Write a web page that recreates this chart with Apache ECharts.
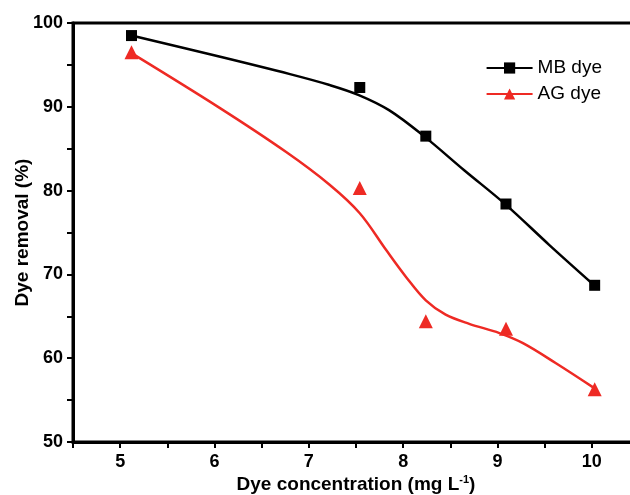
<!DOCTYPE html>
<html>
<head>
<meta charset="utf-8">
<script src="https://cdn.jsdelivr.net/npm/echarts@6/dist/echarts.min.js"></script>
<style>
  html, body { margin: 0; padding: 0; background: #fff; }
  #chart { width: 630px; height: 495px; }
</style>
</head>
<body>
<div id="chart"></div>
<script>
// measured points
var concentration = [5.12, 7.54, 8.24, 9.09, 10.03]
var mbRemoval = [98.5, 92.3, 86.5, 78.4, 68.7]
var agRemoval = [96.5, 80.3, 64.4, 63.5, 56.3]

// fitted curves
var mbCurveX = [5.12, 6.05, 6.8, 7.22, 7.53, 7.85, 8.22, 8.65, 9.09, 9.55, 10.03]
var mbCurveY = [98.5, 96.0, 93.9, 92.6, 91.4, 89.6, 86.5, 82.4, 78.3, 73.5, 68.65]
var agCurveX = [5.12, 6.05, 6.76, 7.22, 7.54, 7.82, 8.03, 8.24, 8.45, 8.7, 9.02, 9.27, 9.62, 10.03]
var agCurveY = [96.4, 89.9, 84.6, 80.7, 77.3, 72.9, 69.7, 66.9, 65.2, 64.1, 63.0, 61.8, 59.4, 56.4]

var xTicks = [5, 6, 7, 8, 9, 10]
var yTicks = [50, 60, 70, 80, 90, 100]

function pairs(xs, ys) {
  return xs.map(function (x, i) { return [x, ys[i]] })
}

var chart = echarts.init(document.getElementById('chart'))

var font = 'Liberation Sans, Arial, sans-serif'

chart.setOption({
  animation: false,
  grid: {
    left: 73,
    top: 23,
    right: -9,
    bottom: 53,
    outerBoundsMode: 'none',
    containLabel: false,
    show: true,
    borderColor: '#000',
    borderWidth: 3
  },
  legend: {
    right: 23,
    top: 53,
    orient: 'vertical',
    itemWidth: 46,
    itemHeight: 14,
    itemGap: 6,
    textStyle: { fontFamily: font, fontSize: 19, lineHeight: 20, color: '#000' },
    data: ['MB dye', 'AG dye']
  },
  xAxis: {
    type: 'value',
    min: 4.5,
    max: 10.5,
    interval: 0.5,
    name: 'Dye concentration (mg L{sup|-1})',
    nameLocation: 'middle',
    nameGap: 32,
    nameMoveOverlap: false,
    nameTextStyle: {
      fontFamily: font, fontSize: 19, fontWeight: 'bold', color: '#000',
      rich: { sup: { fontSize: 11, fontWeight: 'bold', verticalAlign: 'top', padding: [0, 0, 10, 0] } }
    },
    splitLine: { show: false },
    axisLine: { onZero: false, lineStyle: { color: '#000', width: 3 } },
    axisTick: { length: 6, lineStyle: { color: '#000', width: 2 } },
    axisLabel: {
      fontFamily: font, fontSize: 18, fontWeight: 'bold', color: '#000', margin: 11,
      formatter: function (v) { return xTicks.indexOf(v) >= 0 ? String(v) : '' }
    }
  },
  yAxis: {
    type: 'value',
    min: 50,
    max: 100,
    interval: 5,
    name: 'Dye removal (%)',
    nameLocation: 'middle',
    nameGap: 41,
    nameMoveOverlap: false,
    nameTextStyle: { fontFamily: font, fontSize: 19, fontWeight: 'bold', color: '#000' },
    splitLine: { show: false },
    axisLine: { onZero: false, lineStyle: { color: '#000', width: 3 } },
    axisTick: { length: 6, lineStyle: { color: '#000', width: 2 } },
    axisLabel: {
      fontFamily: font, fontSize: 18, fontWeight: 'bold', color: '#000', margin: 10,
      formatter: function (v) { return yTicks.indexOf(v) >= 0 ? String(v) : '' }
    }
  },
  series: [
    {
      name: 'MB dye',
      type: 'line',
      smooth: 0.35,
      showSymbol: false,
      symbol: 'rect',
      symbolSize: 9,
      color: '#000',
      lineStyle: { color: '#000', width: 2.5 },
      data: pairs(mbCurveX, mbCurveY)
    },
    {
      name: 'AG dye',
      type: 'line',
      smooth: 0.35,
      showSymbol: false,
      symbol: 'triangle',
      symbolSize: 11,
      color: '#ee2a24',
      lineStyle: { color: '#ee2a24', width: 2.5 },
      data: pairs(agCurveX, agCurveY)
    },
    {
      name: 'MB points',
      type: 'scatter',
      symbol: 'rect',
      symbolSize: 11,
      itemStyle: { color: '#000', opacity: 1 },
      data: pairs(concentration, mbRemoval)
    },
    {
      name: 'AG points',
      type: 'scatter',
      symbol: 'triangle',
      symbolSize: 14,
      itemStyle: { color: '#ee2a24', opacity: 1 },
      data: pairs(concentration, agRemoval)
    }
  ]
})
</script>
</body>
</html>
